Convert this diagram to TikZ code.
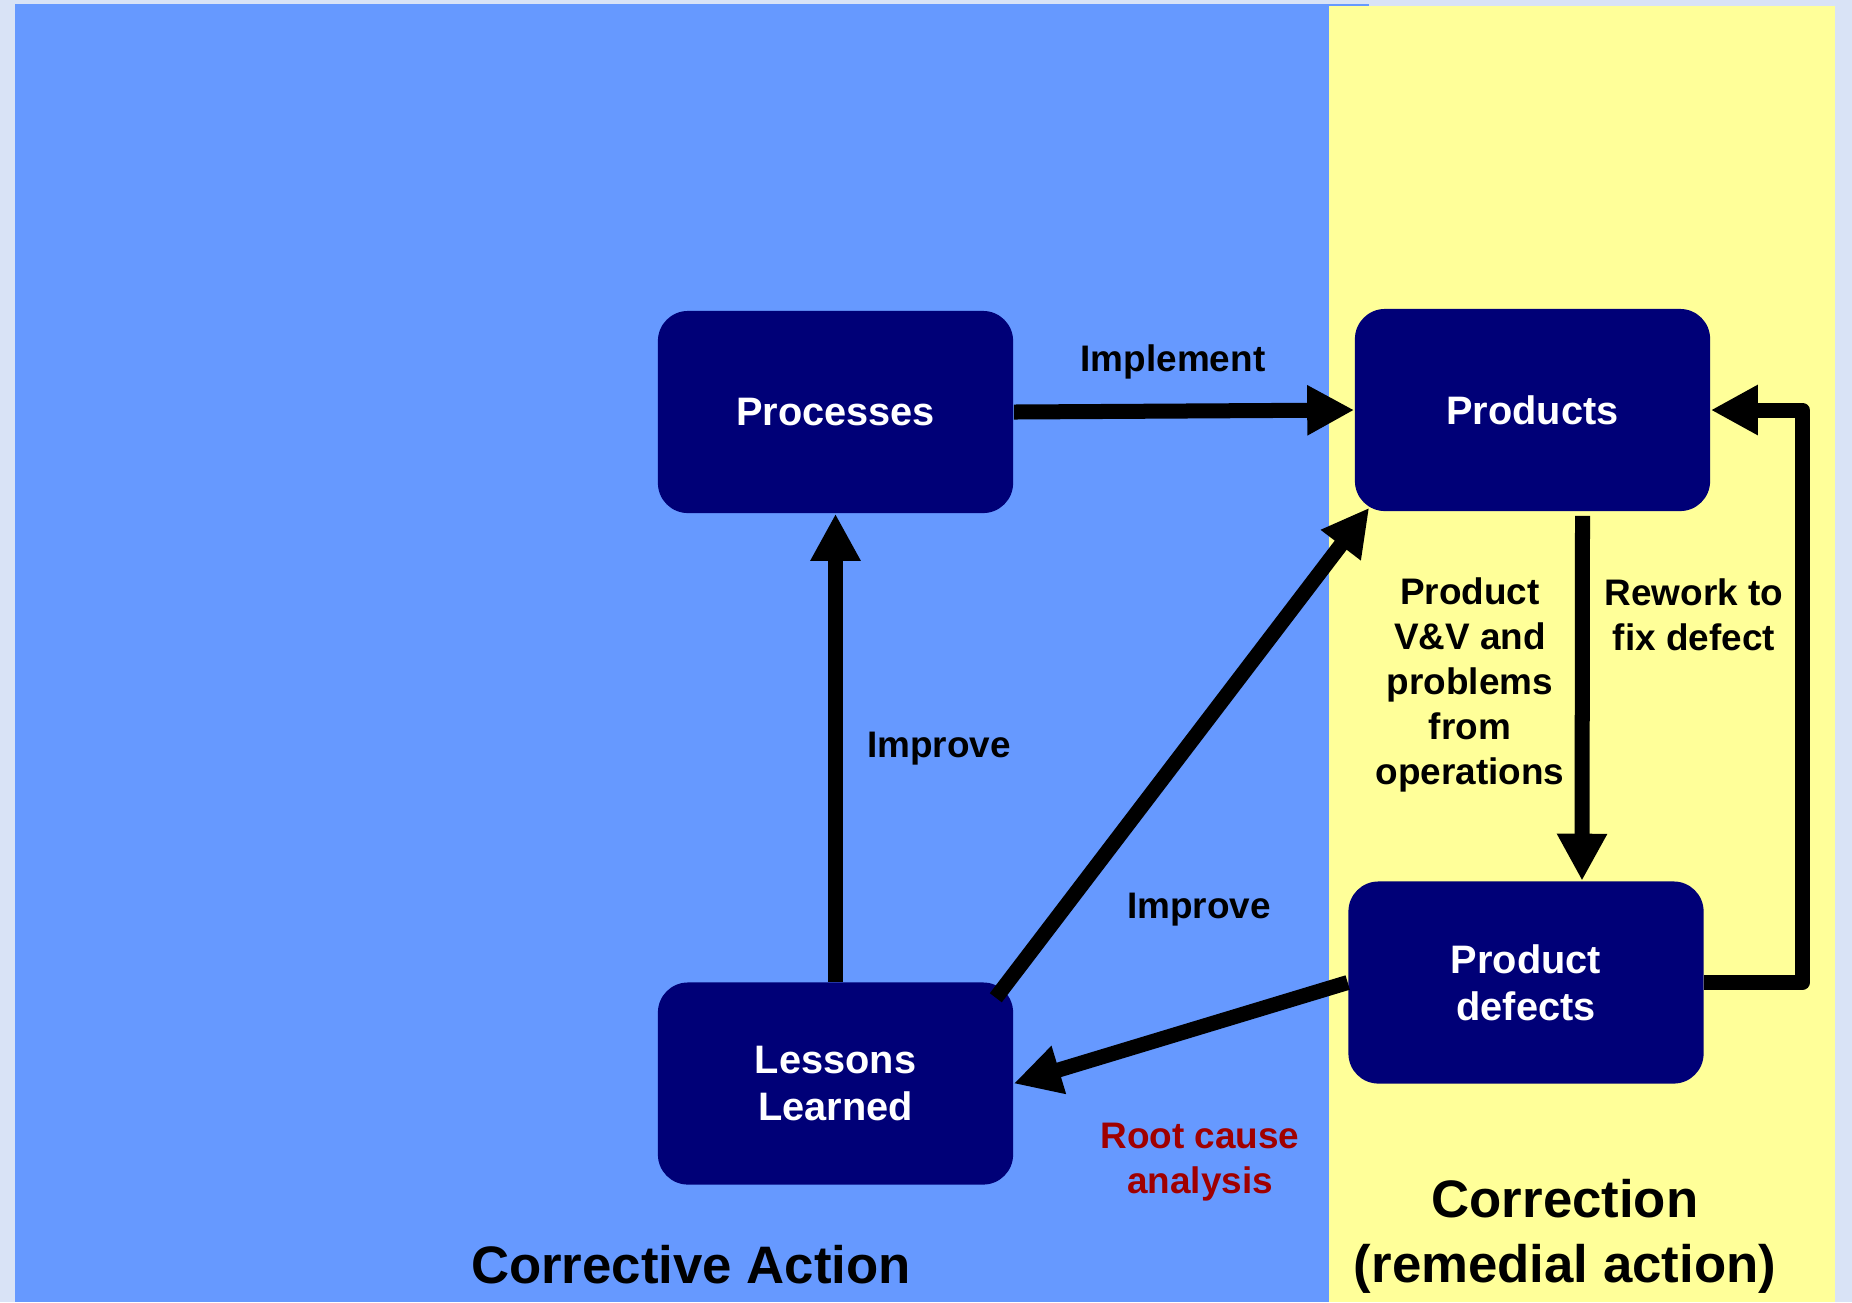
\documentclass[tikz,border=0pt]{standalone}
\usepackage{fontspec}
\setmainfont{Liberation Sans}
\usetikzlibrary{arrows.meta,calc}
\definecolor{pagebg}{HTML}{D9E3F6}
\definecolor{actblue}{HTML}{6699FF}
\definecolor{corryellow}{HTML}{FFFF99}
\definecolor{boxnavy}{HTML}{000077}
\definecolor{rootred}{HTML}{A00000}
\begin{document}
\begin{tikzpicture}[x=0.01cm,y=-0.01cm,
  stage/.style={fill=boxnavy, rounded corners=0.3cm, minimum width=3.55cm,
    minimum height=2.02cm, text=white, inner sep=0pt, align=center,
    font=\fontsize{11.3}{13.4}\selectfont\bfseries},
  flow/.style={line width=0.15cm, line join=round,
    -{Triangle[length=0.47cm,width=0.47cm]}},
  lbl/.style={font=\fontsize{10.5}{12.8}\selectfont\bfseries, align=center, inner sep=0pt},
  ttl/.style={font=\fontsize{15}{18.5}\selectfont\bfseries, align=center, inner sep=0pt}]

% page and the two areas
\path[use as bounding box, fill=pagebg] (0,0) rectangle (1852,1302);
\fill[actblue] (15,4) rectangle (1369,1302);
\fill[corryellow] (1329,6) rectangle (1835,1302);

% boxes
\node[stage] (proc) at (835.5,412) {Processes};
\node[stage] (prod) at (1532.5,410) {Products};
\node[stage] (pd) at (1526,982.5) {Product\\defects};
\node[stage] (ll) at (835.5,1083.5) {Lessons\\Learned};

% connectors
\draw[flow] (proc.east) -- (prod.west);
\draw[flow] (ll.north) -- (proc.south);
\draw[flow] ($(ll.north east)+(-18,16)$) -- ($(prod.south west)+(15,-4)$);
\draw[flow] ($(prod.south)+(50,4)$) -- ($(pd.north)+(56,0)$);
\draw[flow] (pd.east) -- ++(98,0) |- (prod.east);
\draw[flow] (pd.west) -- (ll.east);

% connector labels
\node[lbl] (limpl) at (1173,362) {Implement};
\node[lbl] (limp1) at (939,749) {Improve};
\node[lbl] (limp2) at (1199,910) {Improve};
\node[lbl] (lvv) at (1470,685) {Product\\V\&V and\\problems\\from\\operations};
\node[lbl] (lrw) at (1694,615) {Rework to\\fix defect};
\node[lbl, text=rootred] (lrc) at (1200,1162) {Root cause\\analysis};

% area titles
\node[ttl] (tca) at (691,1265) {Corrective Action};
\node[ttl] (tcr) at (1565,1236) {Correction\\(remedial action)};
\end{tikzpicture}
\end{document}
